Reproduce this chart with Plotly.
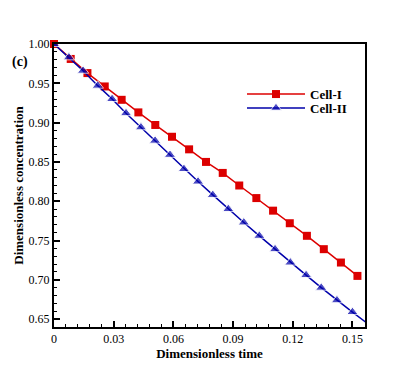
import plotly.graph_objects as go

# Cell-I (squares)
t_cell1 = [0.0, 0.0084, 0.0168, 0.0255, 0.0340, 0.0424, 0.0509, 0.0593, 0.0679, 0.0764,
           0.0848, 0.0931, 0.1017, 0.1101, 0.1185, 0.1271, 0.1356, 0.1442, 0.1525]
c_cell1 = [1.000, 0.981, 0.963, 0.946, 0.929, 0.913, 0.897, 0.882, 0.866, 0.850,
           0.836, 0.820, 0.804, 0.788, 0.772, 0.756, 0.739, 0.722, 0.705]

# Cell-II (triangles); last point is line-only
t_cell2 = [0.0, 0.0075, 0.0146, 0.0220, 0.0292, 0.0362, 0.0437, 0.0508, 0.0583, 0.0653,
           0.0724, 0.0798, 0.0876, 0.0954, 0.1032, 0.1111, 0.1188, 0.1267, 0.1343, 0.1422,
           0.1500, 0.1570]
c_cell2 = [1.000, 0.983, 0.966, 0.947, 0.930, 0.912, 0.894, 0.877, 0.859, 0.841,
           0.825, 0.808, 0.790, 0.773, 0.756, 0.739, 0.722, 0.706, 0.690, 0.674,
           0.659, 0.6455]

x_tickvals = [0, 0.03, 0.06, 0.09, 0.12, 0.15]
x_ticktext = ["0", "0.03", "0.06", "0.09", "0.12", "0.15"]
y_tickvals = [0.65, 0.70, 0.75, 0.80, 0.85, 0.90, 0.95, 1.00]
y_ticktext = ["0.65", "0.70", "0.75", "0.80", "0.85", "0.90", "0.95", "1.00"]

RED = "rgb(220,0,0)"
BLUE = "rgb(0,0,170)"
FONT = "Liberation Serif, Times New Roman, serif"

fig = go.Figure()
fig.add_trace(go.Scatter(
    x=t_cell1, y=c_cell1, mode="lines+markers", name="<b>Cell-I</b>",
    line=dict(color=RED, width=1.5),
    marker=dict(symbol="square", size=8, color=RED),
    cliponaxis=False, legend="legend",
))
sizes2 = [10] * (len(t_cell2) - 1) + [0]
fig.add_trace(go.Scatter(
    x=t_cell2, y=c_cell2, mode="lines+markers", name="<b>Cell-II</b>",
    line=dict(color=BLUE, width=1.5),
    marker=dict(symbol="triangle-up", size=sizes2, color=BLUE),
    legend="legend2",
))

axis_common = dict(
    showline=True, linecolor="black", linewidth=2, mirror=True,
    ticks="inside", ticklen=6, tickwidth=1.5, tickcolor="black",
    showgrid=False, zeroline=False, automargin=False,
    tickfont=dict(family=FONT, size=12, color="black"),
    title_font=dict(family=FONT, size=13, color="black"),
)

fig.update_xaxes(
    range=[0, 0.1563], tickvals=x_tickvals, ticktext=x_ticktext,
    minor=dict(ticks="inside", ticklen=3, dtick=0.006, tick0=0, tickcolor="black", tickwidth=1),
    title_text="<b>Dimensionless time</b>", title_standoff=2,
    **axis_common,
)
fig.update_yaxes(
    range=[0.640, 1.0], tickvals=y_tickvals, ticktext=y_ticktext,
    minor=dict(ticks="inside", ticklen=3, dtick=0.01, tick0=0.65, tickcolor="black", tickwidth=1),
    title_text="<b>Dimensionless concentration</b>", title_standoff=2,
    **axis_common,
)

fig.add_annotation(
    text="<b>(c)</b>", xref="paper", yref="paper", x=-0.109, y=0.936,
    xanchor="center", yanchor="middle",
    showarrow=False, font=dict(family=FONT, size=14, color="black"),
)

leg_common = dict(
    xanchor="left", yanchor="middle",
    bgcolor="rgba(0,0,0,0)", itemwidth=58,
    font=dict(family=FONT, size=13, color="black"),
)
fig.update_layout(
    width=415, height=369,
    margin=dict(l=46, r=58, t=36, b=50),
    paper_bgcolor="white", plot_bgcolor="white",
    showlegend=True,
    legend=dict(x=0.6045, y=0.823, **leg_common),
    legend2=dict(x=0.6045, y=0.774, **leg_common),
    font=dict(family=FONT, color="black"),
)

fig.write_html("out.html")
